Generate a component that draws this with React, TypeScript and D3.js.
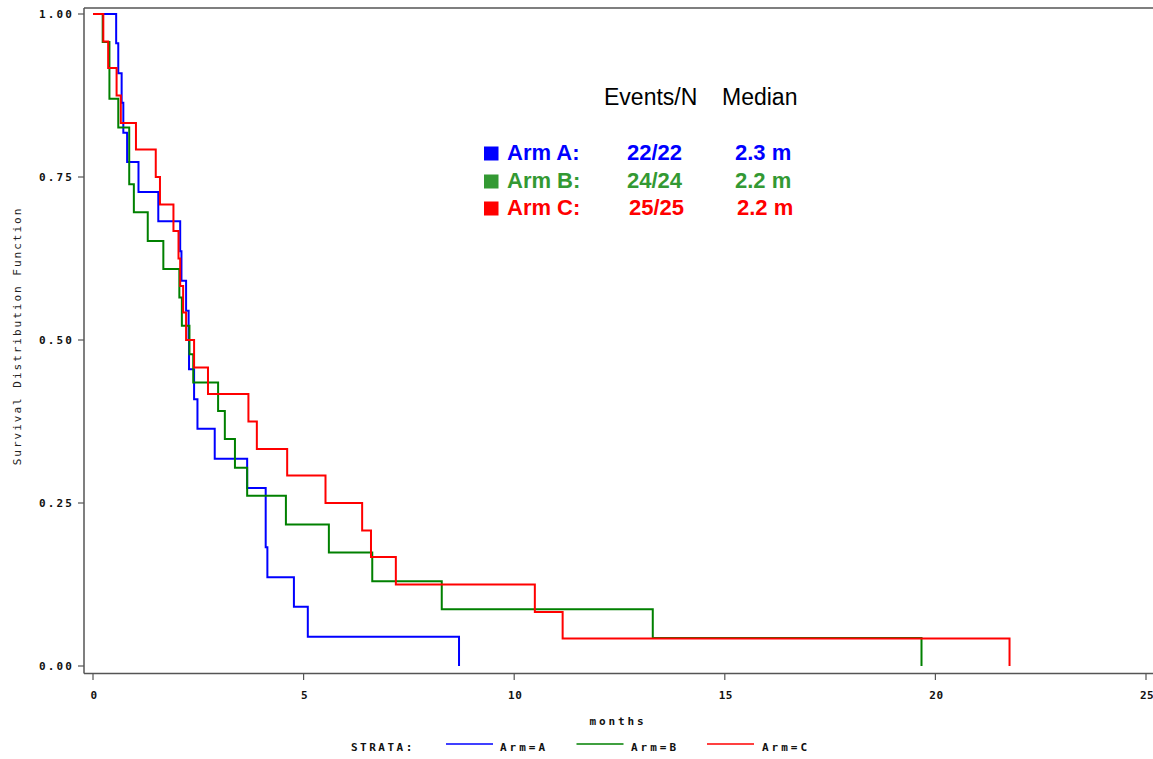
import React from 'react'
import * as d3 from 'd3'

// event times (months) and survival after each event
const timesA = [0.55, 0.6, 0.68, 0.72, 0.81, 1.08, 1.55, 2.07, 2.1, 2.21, 2.27, 2.28, 2.4, 2.48, 2.89, 3.66, 4.1, 4.14, 4.77, 5.1, 8.69]
const survA = [0.955, 0.909, 0.864, 0.818, 0.773, 0.727, 0.682, 0.636, 0.591, 0.545, 0.5, 0.455, 0.409, 0.364, 0.318, 0.273, 0.182, 0.136, 0.091, 0.045, 0]

const timesB = [0.23, 0.39, 0.6, 0.86, 0.97, 1.3, 1.67, 2.05, 2.11, 2.29, 2.38, 2.97, 3.13, 3.37, 3.66, 4.58, 5.6, 6.63, 8.28, 13.29, 19.67]
const survB = [0.957, 0.87, 0.826, 0.739, 0.696, 0.652, 0.609, 0.565, 0.522, 0.478, 0.435, 0.391, 0.348, 0.304, 0.261, 0.217, 0.174, 0.13, 0.087, 0.043, 0]

const timesC = [0.245, 0.36, 0.56, 0.66, 1.02, 1.49, 1.59, 1.91, 2.03, 2.07, 2.14, 2.21, 2.4, 2.73, 3.69, 3.89, 4.61, 5.52, 6.39, 6.6, 7.19, 10.49, 11.15, 21.76]
const survC = [0.958, 0.917, 0.875, 0.833, 0.792, 0.75, 0.708, 0.667, 0.625, 0.583, 0.542, 0.5, 0.458, 0.417, 0.375, 0.333, 0.292, 0.25, 0.208, 0.167, 0.125, 0.083, 0.042, 0]

const arms = ['Arm A:', 'Arm B:', 'Arm C:']
const strata = ['Arm=A', 'Arm=B', 'Arm=C']
const eventsN = ['22/22', '24/24', '25/25']
const medians = ['2.3 m', '2.2 m', '2.2 m']

const xTicks = [0, 5, 10, 15, 20, 25]
const yTicks = [0, 0.25, 0.5, 0.75, 1]

const lineColors = ['#0000ff', '#008000', '#ff0000']
const textColors = ['#0000ff', '#339933', '#ff0000']

const W = 1153
const H = 759
const mono = '"DejaVu Sans Mono", monospace'
const sans = '"Liberation Sans", Arial, sans-serif'

export default function App() {
  const x = d3.scaleLinear().domain([0, 25]).range([93, 1146])
  const y = d3.scaleLinear().domain([0, 1]).range([666, 14])

  const line = d3.line<[number, number]>()
    .x(d => x(d[0]))
    .y(d => y(d[1]))
    .curve(d3.curveStepAfter)

  const series = [
    [timesA, survA],
    [timesB, survB],
    [timesC, survC],
  ].map(([t, s]) => [[0, 1] as [number, number], ...t.map((v, i) => [v, s[i]] as [number, number])])

  const left = 84
  const top = 8
  const bottom = 673.5

  return (
    <svg width={W} height={H} style={{ position: 'absolute', left: 0, top: 0, background: '#fff' }}>
      {/* frame */}
      <line x1={left} x2={W} y1={top} y2={top} stroke="#555" strokeWidth={1.5} />
      <line x1={left} x2={left} y1={top} y2={bottom} stroke="#555" strokeWidth={1.5} />
      <line x1={left} x2={W} y1={bottom} y2={bottom} stroke="#555" strokeWidth={1.5} />

      {/* y axis */}
      {yTicks.map(v => (
        <g key={v}>
          <line x1={78} x2={left} y1={y(v)} y2={y(v)} stroke="#555" strokeWidth={1.2} />
          <text x={74} y={y(v) + 4} textAnchor="end" fontFamily={mono} fontWeight="bold"
            fontSize={11} letterSpacing={2.1} fill="#111">{d3.format('.2f')(v)}</text>
        </g>
      ))}
      <text transform={`translate(21,336) rotate(-90)`} textAnchor="middle" fontFamily={mono}
        fontSize={11} letterSpacing={2} fill="#222">Survival Distribution Function</text>

      {/* x axis */}
      {xTicks.map(v => (
        <g key={v}>
          <line x1={x(v)} x2={x(v)} y1={bottom} y2={680} stroke="#555" strokeWidth={1.2} />
          <text x={x(v) + 1} y={699} textAnchor="middle" fontFamily={mono} fontWeight="bold"
            fontSize={11} letterSpacing={0.5} fill="#111">{v}</text>
        </g>
      ))}
      <text x={618} y={725} textAnchor="middle" fontFamily={mono} fontWeight="bold"
        fontSize={11} letterSpacing={2.9} fill="#111">months</text>

      {/* curves */}
      {series.map((d, i) => (
        <path key={i} d={line(d) ?? ''} fill="none" stroke={lineColors[i]} strokeWidth={2} />
      ))}

      {/* strata legend */}
      <text x={351} y={751} fontFamily={mono} fontWeight="bold" fontSize={11} letterSpacing={2.5}
        fill="#111">STRATA:</text>
      {strata.map((s, i) => (
        <g key={s}>
          <line x1={446 + i * 130.5} x2={493 + i * 130.5} y1={744} y2={744} stroke={lineColors[i]} strokeWidth={1.5} />
          <text x={500 + i * 131} y={751} fontFamily={mono} fontWeight="bold" fontSize={11}
            letterSpacing={3} fill="#111">{s}</text>
        </g>
      ))}

      {/* annotation table */}
      <text x={604} y={105} fontFamily={sans} fontSize={23} fill="#000">Events/N</text>
      <text x={722} y={105} fontFamily={sans} fontSize={23} fill="#000">Median</text>
      {arms.map((a, i) => {
        const base = [160, 188, 215][i]
        return (
          <g key={a} fill={textColors[i]} fontFamily={sans} fontWeight="bold" fontSize={22}>
            <rect x={484} y={base - 13.5} width={14.5} height={14} fill={textColors[i]} />
            <text x={507} y={base}>{a}</text>
            <text x={[627, 627, 629][i]} y={base}>{eventsN[i]}</text>
            <text x={[735, 735, 737][i]} y={base}>{medians[i]}</text>
          </g>
        )
      })}
    </svg>
  )
}
